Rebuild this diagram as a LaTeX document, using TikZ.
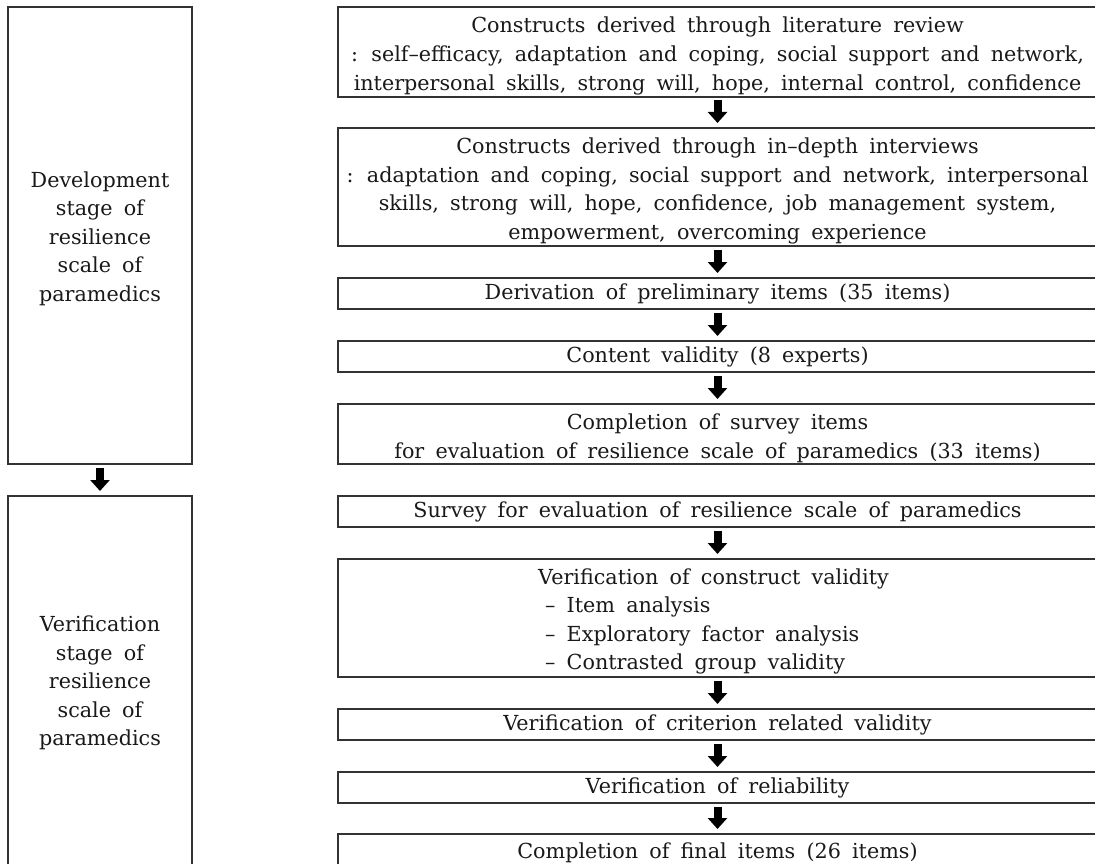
\documentclass[tikz,border=0pt]{standalone}
\usepackage{fontspec}
\setmainfont{DejaVu Serif}[WordSpace=1.7]
\usetikzlibrary{arrows.meta}
\begin{document}
\begin{tikzpicture}[x=1pt,y=-1pt,
  box/.style={draw=black!80, line width=1.2pt, outer sep=0pt, inner sep=0pt,
    anchor=north west},
  rbox/.style={box, minimum width=759pt},
  lbox/.style={box, minimum width=184pt},
  txt/.style={align=center, text=black!90, inner sep=0pt,
    font=\fontsize{20.7}{28.6}\selectfont},
  flow/.style={-{Triangle[width=19pt,length=11pt]}, line width=8pt,
    shorten <=3.5pt, shorten >=5pt, draw=black}]
\useasboundingbox (0,0) rectangle (1095,864);
\clip (0,0) rectangle (1095,864);
\fill[white] (0,0) rectangle (1095,864);
% left stage boxes
\node[lbox, minimum height=457pt] (L1) at (8,7) {};
\node[lbox, minimum height=374pt] (L2) at (8,496) {};
\node[txt, yshift=-3pt] (tL1) at (L1.center)
  {Development\\stage of\\resilience\\scale of\\paramedics};
\node[txt] (tL2) at (L2.center)
  {Verification\\stage of\\resilience\\scale of\\paramedics};
% right process boxes
\node[rbox, minimum height=90pt] (b1) at (338,7) {};
\node[rbox, minimum height=118pt] (b2) at (338,128) {};
\node[rbox, minimum height=31pt] (b3) at (338,278) {};
\node[rbox, minimum height=31pt] (b4) at (338,341) {};
\node[rbox, minimum height=60pt] (b5) at (338,404) {};
\node[rbox, minimum height=31pt] (b6) at (338,496) {};
\node[rbox, minimum height=118pt] (b7) at (338,559) {};
\node[rbox, minimum height=31pt] (b8) at (338,709) {};
\node[rbox, minimum height=31pt] (b9) at (338,772) {};
\node[rbox, minimum height=38pt] (b10) at (338,834) {};
% texts
\node[txt, yshift=-4pt] (t1) at (b1.center)
  {Constructs derived through literature review\\
   : self–efficacy, adaptation and coping, social support and network,\\
   interpersonal skills, strong will, hope, internal control, confidence};
\node[txt, yshift=-4pt] (t2) at (b2.center)
  {Constructs derived through in–depth interviews\\
   : adaptation and coping, social support and network, interpersonal\\
   skills, strong will, hope, confidence, job management system,\\
   empowerment, overcoming experience};
\node[txt] (t3) at (b3.center) {Derivation of preliminary items (35 items)};
\node[txt] (t4) at (b4.center) {Content validity (8 experts)};
\node[txt, yshift=-4pt] (t5) at (b5.center)
  {Completion of survey items\\
   for evaluation of resilience scale of paramedics (33 items)};
\node[txt] (t6) at (b6.center)
  {Survey for evaluation of resilience scale of paramedics};
\node[txt, align=left, yshift=-3.5pt, xshift=-4pt] (t7) at (b7.center)
  {Verification of construct validity\\
   \hspace*{7pt}– Item analysis\\
   \hspace*{7pt}– Exploratory factor analysis\\
   \hspace*{7pt}– Contrasted group validity};
\node[txt] (t8) at (b8.center) {Verification of criterion related validity};
\node[txt] (t9) at (b9.center) {Verification of reliability};
\node[txt] (t10) at (b10.center) {Completion of final items (26 items)};
% arrows
\draw[flow] (L1) -- (L2);
\draw[flow] (b1) -- (b2);
\draw[flow] (b2) -- (b3);
\draw[flow] (b3) -- (b4);
\draw[flow] (b4) -- (b5);
\draw[flow] (b6) -- (b7);
\draw[flow] (b7) -- (b8);
\draw[flow] (b8) -- (b9);
\draw[flow] (b9) -- (b10);
\end{tikzpicture}
\end{document}
